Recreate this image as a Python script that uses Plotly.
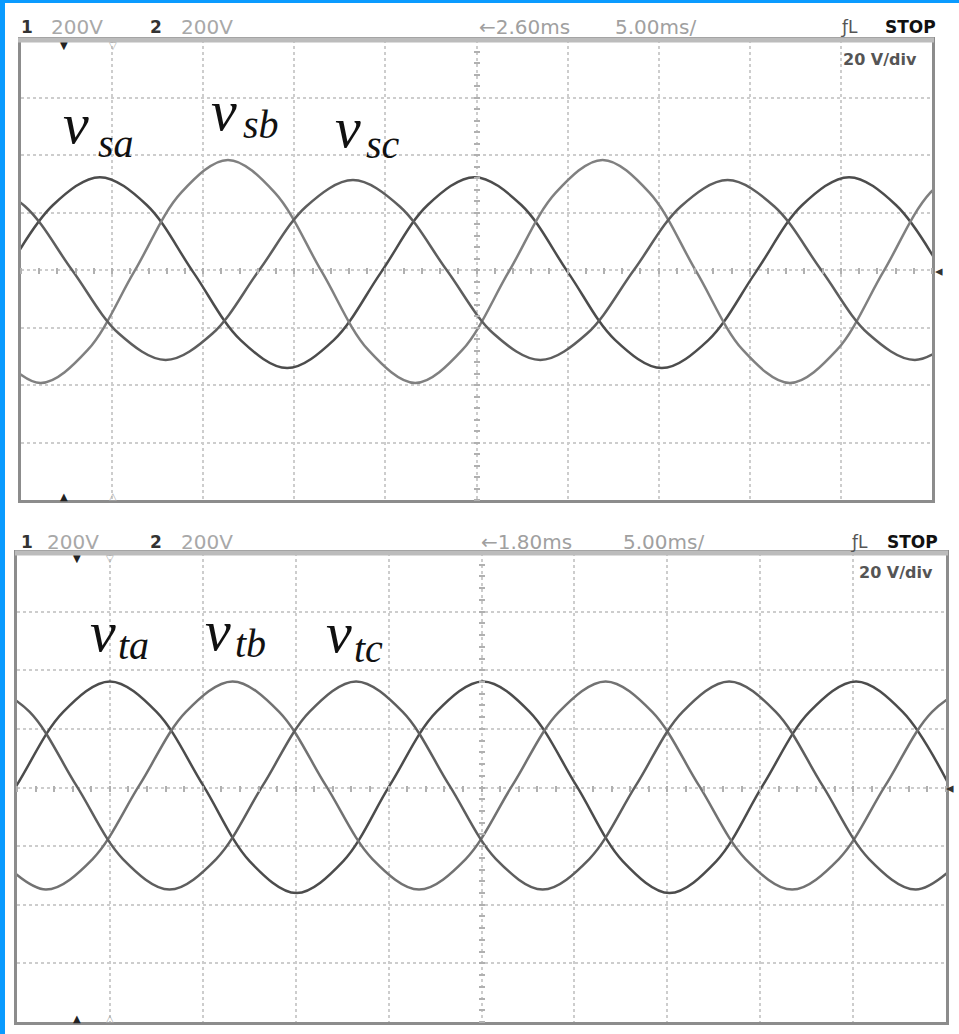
import plotly.graph_objects as go

W, H = 959, 1034

# ---------------- data (time in ms, voltage in V) ----------------
# upper screen: source voltages v_sa, v_sb, v_sc
t_sa = [-0.81, 1.76, 4.33, 6.90, 9.47, 12.04, 14.61, 17.18, 19.75, 22.32, 24.89,
        27.46, 30.03, 32.60, 35.17, 37.74, 40.31, 42.88, 45.45, 48.02, 50.59]
v_sa = [-0.9, 22.6, 32.3, 22.6, -0.9, -24.3, -34.1, -24.3, -0.9, 22.6, 32.3,
        22.6, -0.9, -24.3, -34.1, -24.3, -0.9, 22.6, 32.3, 22.6, -0.9]
t_sb = [-1.49, 1.08, 3.65, 6.22, 8.79, 11.36, 13.93, 16.50, 19.07, 21.64, 24.21,
        26.78, 29.35, 31.92, 34.49, 37.06, 39.63, 42.20, 44.77, 47.34, 49.91, 52.48]
v_sb = [-27.9, -39.3, -27.9, -0.5, 26.9, 38.3, 26.9, -0.5, -27.9, -39.3, -27.9,
        -0.5, 26.9, 38.3, 26.9, -0.5, -27.9, -39.3, -27.9, -0.5, 26.9, 38.3]
t_sc = [-2.34, 0.23, 2.80, 5.37, 7.94, 10.51, 13.08, 15.65, 18.22, 20.79, 23.36,
        25.93, 28.50, 31.07, 33.64, 36.21, 38.78, 41.35, 43.92, 46.49, 49.06, 51.63]
v_sc = [31.3, 22.1, 0.0, -22.1, -31.3, -22.1, 0.0, 22.1, 31.3, 22.1, 0.0,
        -22.1, -31.3, -22.1, 0.0, 22.1, 31.3, 22.1, 0.0, -22.1, -31.3, -22.1]

# lower screen: v_ta, v_tb, v_tc
t_ta = [-2.53, -0.02, 2.49, 5.00, 7.51, 10.02, 12.53, 15.04, 17.55, 20.06, 22.57,
        25.08, 27.59, 30.10, 32.61, 35.12, 37.63, 40.14, 42.65, 45.16, 47.67, 50.18]
v_ta = [-25.2, 0.7, 25.8, 36.2, 25.8, 0.7, -25.2, -36.0, -25.2, 0.7, 25.8,
        36.2, 25.8, 0.7, -25.2, -36.0, -25.2, 0.7, 25.8, 36.2, 25.8, 0.7]
t_tb = [-0.95, 1.56, 4.07, 6.58, 9.09, 11.60, 14.11, 16.62, 19.13, 21.64, 24.15,
        26.66, 29.17, 31.68, 34.19, 36.70, 39.21, 41.72, 44.23, 46.74, 49.25, 51.76]
v_tb = [-24.4, -34.8, -24.4, 0.7, 25.8, 36.2, 25.8, 0.7, -24.4, -34.8, -24.4,
        0.7, 25.8, 36.2, 25.8, 0.7, -24.4, -34.8, -24.4, 0.7, 25.8, 36.2]
t_tc = [-1.83, 0.68, 3.19, 5.70, 8.21, 10.72, 13.23, 15.74, 18.25, 20.76, 23.27,
        25.78, 28.29, 30.80, 33.31, 35.82, 38.33, 40.84, 43.35, 45.86, 48.37, 50.88]
v_tc = [36.2, 25.8, 0.7, -24.4, -34.8, -24.4, 0.7, 25.8, 36.2, 25.8, 0.7,
        -24.4, -34.8, -24.4, 0.7, 25.8, 36.2, 25.8, 0.7, -24.4, -34.8, -24.4]

x_range = [0, 50]      # 10 div x 5 ms/div
y_range = [-80, 80]    # 8 div x 20 V/div

top_header = ["1", "200V", "2", "200V", "\u21902.60ms", "5.00ms/", "\u0192L", "STOP"]
bot_header = ["1", "200V", "2", "200V", "\u21901.80ms", "5.00ms/", "\u0192L", "STOP"]
scale_text = "20 V/div"

# ---------------- figure ----------------
fig = go.Figure()

def wave(t, v, color, xa, ya):
    fig.add_trace(go.Scatter(x=t, y=v, mode="lines", xaxis=xa, yaxis=ya,
                             line=dict(color=color, width=2.5, shape="spline", smoothing=1.0),
                             showlegend=False, hoverinfo="skip"))

wave(t_sa, v_sa, "#4c4c4c", "x", "y")
wave(t_sb, v_sb, "#808080", "x", "y")
wave(t_sc, v_sc, "#5e5e5e", "x", "y")
wave(t_ta, v_ta, "#4c4c4c", "x2", "y2")
wave(t_tb, v_tb, "#727272", "x2", "y2")
wave(t_tc, v_tc, "#5e5e5e", "x2", "y2")

# empty traces so the centre-graticule tick axes exist
for xa, ya in [("x3", "y"), ("x", "y3"), ("x4", "y2"), ("x2", "y4")]:
    fig.add_trace(go.Scatter(x=[None], y=[None], xaxis=xa, yaxis=ya, mode="lines",
                             showlegend=False, hoverinfo="skip"))

grid = dict(showgrid=True, gridcolor="#cdcdcd", griddash="dot", gridwidth=1.5,
            zeroline=False, showticklabels=False, ticks="", showline=True,
            linecolor="#8c8c8c", linewidth=3, mirror=True, fixedrange=True)
cx = dict(range=x_range, dtick=5, tick0=0, **grid)
cy = dict(range=y_range, dtick=20, tick0=0, **grid)

tick_common = dict(showgrid=False, zeroline=False, showticklabels=False, showline=False,
                   ticks="outside", ticklen=6, tickwidth=1.5, tickcolor="#b0b0b0", fixedrange=True)

top_x0, top_x1, top_y0, top_y1 = 21, 932, 40, 500
bot_x0, bot_x1, bot_y0, bot_y1 = 17, 946, 553, 1022
top_cx, top_cy = (top_x0 + top_x1) / 2, (top_y0 + top_y1) / 2
bot_cx, bot_cy = (bot_x0 + bot_x1) / 2, (bot_y0 + bot_y1) / 2

fig.update_layout(
    width=W, height=H, margin=dict(l=0, r=0, t=0, b=0),
    paper_bgcolor="white", plot_bgcolor="white",
    xaxis=dict(domain=[top_x0 / W, top_x1 / W], anchor="y", **cx),
    yaxis=dict(domain=[1 - top_y1 / H, 1 - top_y0 / H], anchor="x", **cy),
    xaxis2=dict(domain=[bot_x0 / W, bot_x1 / W], anchor="y2", **cx),
    yaxis2=dict(domain=[1 - bot_y1 / H, 1 - bot_y0 / H], anchor="x2", **cy),
    xaxis3=dict(overlaying="x", anchor="free", position=1 - (top_cy - 3) / H,
                range=x_range, dtick=1, tick0=0, **tick_common),
    yaxis3=dict(overlaying="y", anchor="free", side="left", position=(top_cx + 3) / W,
                range=y_range, dtick=4, tick0=0, **tick_common),
    xaxis4=dict(overlaying="x2", anchor="free", position=1 - (bot_cy - 3) / H,
                range=x_range, dtick=1, tick0=0, **tick_common),
    yaxis4=dict(overlaying="y2", anchor="free", side="left", position=(bot_cx + 3) / W,
                range=y_range, dtick=4, tick0=0, **tick_common),
)

shapes = [
    # blue frame of the picture (left and top edges)
    dict(type="rect", xref="paper", yref="paper", x0=0, x1=5 / W, y0=0, y1=1,
         fillcolor="#0a9bff", line=dict(width=0), layer="above"),
    dict(type="rect", xref="paper", yref="paper", x0=0, x1=1, y0=1 - 3 / H, y1=1,
         fillcolor="#0a9bff", line=dict(width=0), layer="above"),
    # lighter header bars on top of each screen
    dict(type="line", xref="paper", yref="paper", x0=(top_x0 - 3) / W, x1=(top_x1 + 2) / W,
         y0=1 - top_y0 / H, y1=1 - top_y0 / H, line=dict(color="#bcbcbc", width=5), layer="above"),
    dict(type="line", xref="paper", yref="paper", x0=(bot_x0 - 2) / W, x1=(bot_x1 + 2) / W,
         y0=1 - bot_y0 / H, y1=1 - bot_y0 / H, line=dict(color="#bcbcbc", width=5), layer="above"),
]
fig.update_layout(shapes=shapes)

anns = []

def ann(text, xpx, ypx, size, color="#222", family="DejaVu Sans", xanchor="left", yanchor="middle"):
    anns.append(dict(text=text, xref="paper", yref="paper", x=xpx / W, y=1 - ypx / H,
                     xanchor=xanchor, yanchor=yanchor, showarrow=False,
                     font=dict(size=size, color=color, family=family)))

def header(labels, xs, y):
    cols = ["#333", "#a8a8a8", "#333", "#a8a8a8", "#a0a0a0", "#a0a0a0", "#555", "#111"]
    sizes = [17, 20, 17, 20, 20, 20, 17, 17]
    for lab, xp, col, sz in zip(labels, xs, cols, sizes):
        txt = "<b>" + lab + "</b>" if lab in ("1", "2", "STOP") else lab
        ann(txt, xp, y, sz, col, "DejaVu Sans")

header(top_header, [19, 49, 148, 179, 477, 613, 838, 883], 27)
header(bot_header, [19, 45, 148, 179, 479, 621, 848, 885], 542)
ann("<b>" + scale_text + "</b>", 841, 59, 16, "#555")
ann("<b>" + scale_text + "</b>", 857, 572, 16, "#555")

serif = "Liberation Serif"
labels_top = [("v", "sa", 65, 98, 127, 146), ("v", "sb", 213, 243, 114, 128), ("v", "sc", 337, 366, 131, 147)]
labels_bot = [("v", "ta", 92, 118, 635, 648), ("v", "tb", 207, 235, 634, 646), ("v", "tc", 328, 354, 636, 651)]
for main, sub, xm, xs_, ym, ys in labels_top + labels_bot:
    ann("<i>" + main + "</i>", xm - 4, ym - 4, 58, "#111", serif)
    ann("<i>" + sub + "</i>", xs_ - 2, ys - 3, 40, "#111", serif)

# position / trigger markers on the screen edges
for xp, yp, col, ch in [(64, 45, "#222", "\u25BC"), (113, 46, "#aaa", "\u25BD"),
                        (64, 496, "#222", "\u25B2"), (113, 496, "#aaa", "\u25B3"),
                        (77, 558, "#222", "\u25BC"), (110, 558, "#aaa", "\u25BD"),
                        (77, 1018, "#222", "\u25B2"), (110, 1018, "#aaa", "\u25B3")]:
    ann(ch, xp, yp, 10, col, "DejaVu Sans", xanchor="center")
ann("\u25C2", 933, 271, 15, "#333", "DejaVu Sans")
ann("\u25C2", 944, 788, 15, "#333", "DejaVu Sans")

fig.update_layout(annotations=anns)

# remove the browser's default page margin so the 959x1034 figure fills the window
fig.write_html("out.html", config={"displayModeBar": False},
               post_script="document.body.style.margin='0';")
